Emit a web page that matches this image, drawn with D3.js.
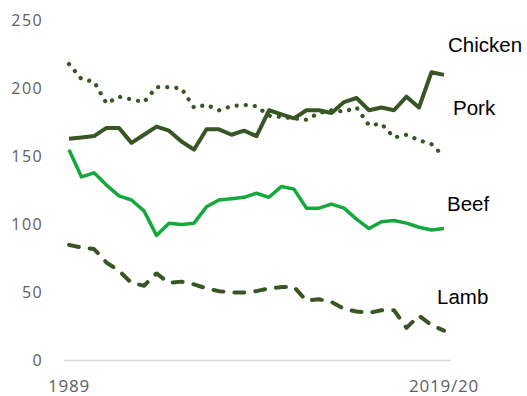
<!DOCTYPE html>
<html>
<head>
<meta charset="utf-8">
<script src="https://cdn.jsdelivr.net/npm/d3@7"></script>
<style>
  html, body { margin: 0; padding: 0; background: #fff; }
  svg { display: block; }
</style>
</head>
<body>
<script>
const years = d3.range(1989, 2020);
const xTickLabels = ["1989", "2019/20"];
const yTicks = [0, 50, 100, 150, 200, 250];

const pork = [163,164,165,171,171,160,166,172,169,161,155,170,170,166,169,165,184,181,178,184,184,182,190,193,184,186,184,194,186,212,210];
const chicken = [218,207,205,189,194,192,190,201,201,200,186,188,184,187,188,187,180,179,178,177,182,184,183,186,173,174,164,166,162,159,150];
const beef = [155,135,138,129,121,118,110,92,101,100,101,113,118,119,120,123,120,128,126,112,112,115,112,104,97,102,103,101,98,96,97];
const lamb = [85,83,82,72,66,57,55,64,57,58,56,53,51,50,50,51,53,54,54,44,45,43,38,36,35,37,37,24,33,26,22];

const seriesNames = ["Chicken", "Pork", "Beef", "Lamb"];

const W = 527, H = 396;
const svg = d3.select("body").append("svg").attr("width", W).attr("height", H);

const x = d3.scaleLinear().domain([1989, 2019]).range([69, 444]);
const y = d3.scaleLinear().domain([0, 250]).range([360.5, 20.5]);

// baseline axis
svg.append("line")
  .attr("x1", 64).attr("x2", 451)
  .attr("y1", y(0)).attr("y2", y(0))
  .attr("stroke", "#d9d9d9").attr("stroke-width", 1.5);

// y tick labels
svg.append("g").selectAll("text").data(yTicks).join("text")
  .attr("x", 43).attr("y", d => y(d))
  .attr("dy", "0.36em")
  .attr("text-anchor", "end")
  .attr("font-family", "'Open Sans', sans-serif")
  .attr("font-size", 16)
  .attr("letter-spacing", 1.4)
  .attr("fill", "#606060")
  .text(d => d);

// x tick labels
svg.append("g").selectAll("text").data([1989, 2019]).join("text")
  .attr("x", d => x(d)).attr("y", 392)
  .attr("text-anchor", "middle")
  .attr("font-family", "'Open Sans', sans-serif")
  .attr("font-size", 17)
  .attr("letter-spacing", 0.8)
  .attr("fill", "#606060")
  .text((d, i) => xTickLabels[i]);

const line = d3.line().x((d, i) => x(years[i])).y(d => y(d));
const dark = "#375623";
const green = "#15a83d";

svg.append("path").datum(chicken)
  .attr("d", line).attr("fill", "none")
  .attr("stroke", dark).attr("stroke-width", 4.2)
  .attr("stroke-linecap", "round").attr("stroke-linejoin", "round")
  .attr("stroke-dasharray", "0.1 9");

svg.append("path").datum(lamb)
  .attr("d", line).attr("fill", "none")
  .attr("stroke", dark).attr("stroke-width", 4)
  .attr("stroke-linecap", "round").attr("stroke-linejoin", "round")
  .attr("stroke-dasharray", "10 11");

svg.append("path").datum(beef)
  .attr("d", line).attr("fill", "none")
  .attr("stroke", green).attr("stroke-width", 3.5)
  .attr("stroke-linejoin", "round");

svg.append("path").datum(pork)
  .attr("d", line).attr("fill", "none")
  .attr("stroke", dark).attr("stroke-width", 4)
  .attr("stroke-linejoin", "round");

// series labels
const labelPos = [
  {x: 448, y: 52},
  {x: 453, y: 115},
  {x: 447, y: 211},
  {x: 437, y: 304}
];
svg.append("g").selectAll("text").data(seriesNames).join("text")
  .attr("x", (d, i) => labelPos[i].x)
  .attr("y", (d, i) => labelPos[i].y)
  .attr("font-family", "'Liberation Sans', Arial, sans-serif")
  .attr("font-size", 20.5)
  .attr("fill", "#000")
  .text(d => d);
</script>
</body>
</html>
